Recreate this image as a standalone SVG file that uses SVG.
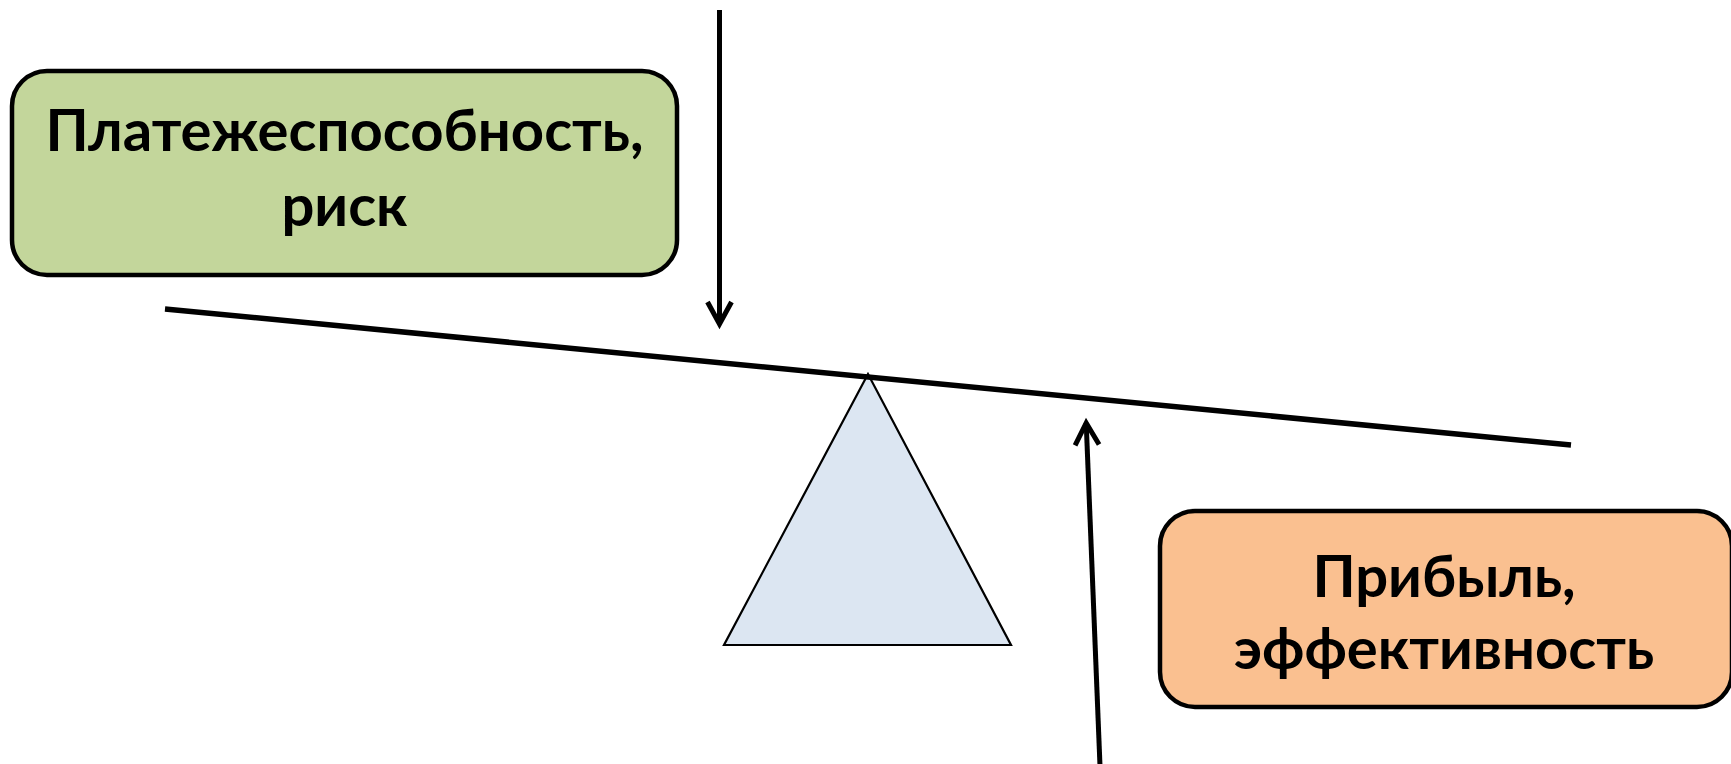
<svg xmlns="http://www.w3.org/2000/svg" width="1731" height="764" viewBox="0 0 1731 764">
  <style>
    .box { stroke: #000; stroke-width: 4.5; }
    .lbl { font-family: Lato, "Open Sans", "Liberation Sans", sans-serif; font-weight: bold; font-size: 58px; fill: #000; text-anchor: middle; }
    .conn { stroke: #000; stroke-width: 5; fill: none; }
  </style>
  <defs>
    <marker id="arr" markerUnits="userSpaceOnUse" markerWidth="40" markerHeight="40" viewBox="-30 -20 40 40" refX="0" refY="0" orient="auto">
      <path d="M -22,-12 L 0,0 L -22,12" fill="none" stroke="#000" stroke-width="5" stroke-linejoin="miter"/>
    </marker>
  </defs>
  <rect width="1731" height="764" fill="#fff"/>
  <g id="fulcrum">
    <polygon points="868,374 724,645 1011,645" fill="#DCE6F2" stroke="#000" stroke-width="2.2"/>
  </g>
  <g id="beam">
    <line x1="165" y1="309" x2="1571" y2="445" stroke="#000" stroke-width="5.5"/>
  </g>
  <g id="solvency">
    <rect class="box" x="12" y="71" width="665" height="204" rx="35" fill="#C3D69B"/>
    <text class="lbl" x="344.5" y="151">Платежеспособность,</text>
    <text class="lbl" x="344.5" y="226">риск</text>
  </g>
  <g id="profit">
    <rect class="box" x="1160" y="511" width="572" height="196" rx="35" fill="#FAC090"/>
    <text class="lbl" x="1444" y="597">Прибыль,</text>
    <text class="lbl" x="1444" y="669">эффективность</text>
  </g>
  <g id="connectors">
    <line class="conn" x1="719.5" y1="10" x2="719.5" y2="324" marker-end="url(#arr)"/>
    <line class="conn" x1="1100" y1="766" x2="1086.2" y2="423" marker-end="url(#arr)"/>
  </g>
</svg>
